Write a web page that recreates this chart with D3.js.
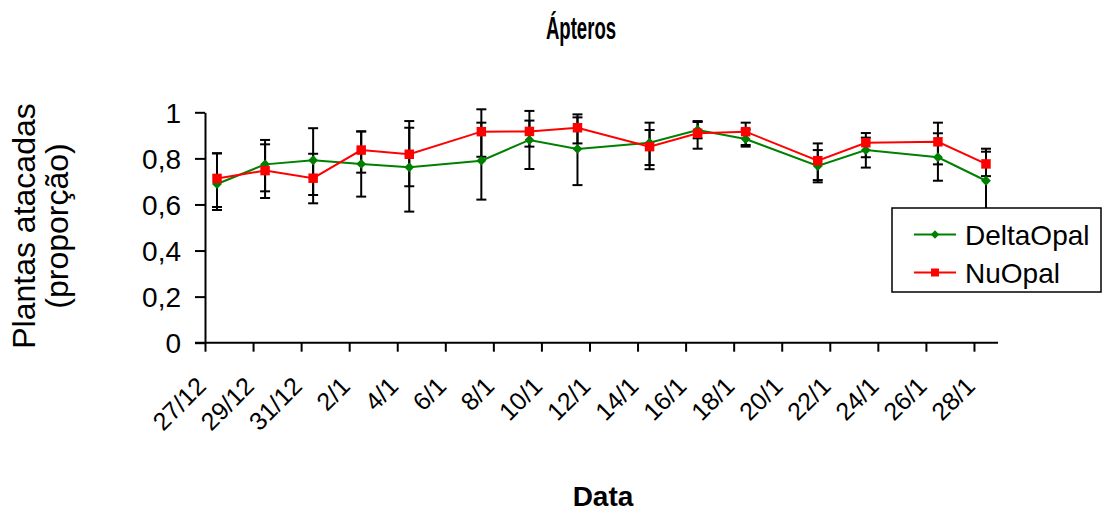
<!DOCTYPE html>
<html>
<head>
<meta charset="utf-8">
<script src="https://cdn.jsdelivr.net/npm/d3@7"></script>
<style>
  html, body { margin: 0; padding: 0; background: #fff; }
  svg { display: block; }
  svg text { font-family: "Liberation Sans", Arial, sans-serif; }
</style>
</head>
<body>
<svg id="chart" width="1107" height="513"></svg>
<script>
// ---- data ----
const sampleDates = ["27/12","29/12","31/12","2/1","4/1","7/1","9/1","11/1","14/1","16/1","18/1","21/1","23/1","26/1","28/1"];
const deltaOpal   = [0.689,0.774,0.792,0.776,0.761,0.790,0.880,0.841,0.868,0.923,0.884,0.767,0.836,0.805,0.703];
const deltaLow    = [0.576,0.657,0.641,0.634,0.569,0.621,0.754,0.684,0.753,0.887,0.851,0.696,0.760,0.703,0.564];
const deltaHigh   = [0.822,0.880,0.931,0.917,0.962,0.955,1.006,0.991,0.955,0.958,0.926,0.836,0.890,0.909,0.842];
const nuOpal      = [0.713,0.747,0.714,0.836,0.818,0.916,0.917,0.933,0.851,0.909,0.916,0.790,0.868,0.872,0.776];
const nuLow       = [0.589,0.628,0.605,0.738,0.679,0.807,0.851,0.865,0.771,0.842,0.858,0.706,0.805,0.774,0.723];
const nuHigh      = [0.822,0.861,0.820,0.917,0.933,1.013,0.964,0.978,0.923,0.962,0.955,0.865,0.910,0.955,0.829];
const xTickLabels = ["27/12","29/12","31/12","2/1","4/1","6/1","8/1","10/1","12/1","14/1","16/1","18/1","20/1","22/1","24/1","26/1","28/1"];
const yTicks      = [0, 0.2, 0.4, 0.6, 0.8, 1];
const seriesNames = ["DeltaOpal", "NuOpal"];
const seriesColors = ["#008000", "#ff0000"];
const titleText = "Ápteros";
const xTitle = "Data";
const yTitleLines = ["Plantas atacadas", "(proporção)"];

// ---- helpers ----
const FONT = "'Liberation Sans', Arial, sans-serif";
function parseDM(s) {
  const [d, m] = s.split("/").map(Number);
  return new Date(Date.UTC(m === 12 ? 2000 : 2001, m - 1, d));
}
const HALF_DAY = 12 * 3600 * 1000;

const svg = d3.select("#chart");
const W = 1107, H = 513;
svg.append("rect").attr("width", W).attr("height", H).attr("fill", "#fff");

const x0 = 205, x1 = 998, y0 = 342.7, y1 = 112.3;
const x = d3.scaleUtc()
  .domain([parseDM("27/12"), new Date(parseDM("28/1").getTime() + 2 * HALF_DAY)])
  .range([x0, x1]);
const y = d3.scaleLinear().domain([0, 1]).range([y0, y1]);

// title (condensed, as in the reference)
svg.append("text").attr("transform", "translate(581,39) scale(0.6,1)")
  .attr("text-anchor", "middle")
  .attr("font-family", FONT)
  .attr("font-weight", "bold").attr("font-size", 31)
  .text(titleText);

// x axis
const xAxis = d3.axisBottom(x)
  .tickValues(xTickLabels.map(parseDM))
  .tickSize(9).tickSizeOuter(0)
  .tickFormat((d, i) => xTickLabels[i]);
const gx = svg.append("g").attr("transform", `translate(0,${y0})`).call(xAxis)
  .attr("font-family", FONT);
gx.select(".domain").remove();
gx.selectAll(".tick line").attr("stroke", "#000").attr("stroke-width", 2);
gx.selectAll(".tick text")
  .attr("font-size", 25).attr("fill", "#000")
  .attr("text-anchor", "end")
  .attr("y", 0).attr("dy", 0)
  .attr("transform", "translate(2,45) rotate(-45)");
svg.append("line").attr("x1", 195).attr("x2", x1).attr("y1", y0).attr("y2", y0)
  .attr("stroke", "#000").attr("stroke-width", 2);

// y axis
const yAxis = d3.axisLeft(y).tickValues(yTicks).tickSize(10).tickSizeOuter(0)
  .tickPadding(14)
  .tickFormat(d => String(+d.toFixed(1)).replace(".", ","));
const gy = svg.append("g").attr("transform", `translate(${x0},0)`).call(yAxis)
  .attr("font-family", FONT);
gy.select(".domain").attr("stroke", "#000").attr("stroke-width", 2);
gy.selectAll(".tick line").attr("stroke", "#000").attr("stroke-width", 2);
gy.selectAll(".tick text").attr("font-size", 28).attr("fill", "#000").attr("dy", "0.36em");

// y title
const yt = svg.append("text").attr("transform", "translate(35,226) rotate(-90)")
  .attr("font-family", FONT)
  .attr("text-anchor", "middle").attr("font-size", 32);
yt.append("tspan").attr("x", 0).attr("y", 0).text(yTitleLines[0]);
yt.append("tspan").attr("x", 0).attr("y", 33).text(yTitleLines[1]);

// x title
svg.append("text").attr("x", 603).attr("y", 506).attr("text-anchor", "middle")
  .attr("font-family", FONT)
  .attr("font-weight", "bold").attr("font-size", 28).text(xTitle);

// data
const dates = sampleDates.map(s => new Date(parseDM(s).getTime() + HALF_DAY));
const series = [
  { name: seriesNames[0], color: seriesColors[0], vals: deltaOpal, lo: deltaLow, hi: deltaHigh, shape: "diamond" },
  { name: seriesNames[1], color: seriesColors[1], vals: nuOpal, lo: nuLow, hi: nuHigh, shape: "square" }
];

// error bars
const capW = 5;
series.forEach(s => {
  const g = svg.append("g").attr("stroke", "#000").attr("stroke-width", 2);
  dates.forEach((d, i) => {
    const cx = x(d);
    g.append("line").attr("x1", cx).attr("x2", cx).attr("y1", y(s.lo[i])).attr("y2", y(s.hi[i]));
    g.append("line").attr("x1", cx - capW).attr("x2", cx + capW).attr("y1", y(s.lo[i])).attr("y2", y(s.lo[i]));
    g.append("line").attr("x1", cx - capW).attr("x2", cx + capW).attr("y1", y(s.hi[i])).attr("y2", y(s.hi[i]));
  });
});

const symDiamond = d3.symbol().type(d3.symbolDiamond2).size(62);
const symSquare = d3.symbol().type(d3.symbolSquare).size(90);

series.forEach(s => {
  const line = d3.line().x((d, i) => x(dates[i])).y(d => y(d));
  svg.append("path").datum(s.vals).attr("d", line).attr("fill", "none")
    .attr("stroke", s.color).attr("stroke-width", 2);
  svg.append("g").selectAll("path").data(s.vals).join("path")
    .attr("transform", (d, i) => `translate(${x(dates[i])},${y(d)})`)
    .attr("d", s.shape === "diamond" ? symDiamond() : symSquare())
    .attr("fill", s.color);
});

// legend
const symDiamondL = d3.symbol().type(d3.symbolDiamond2).size(45);
const symSquareL = d3.symbol().type(d3.symbolSquare).size(64);
const lg = svg.append("g");
lg.append("rect").attr("x", 892).attr("y", 208).attr("width", 209).attr("height", 84)
  .attr("fill", "#fff").attr("stroke", "#000").attr("stroke-width", 1.5);
series.forEach((s, i) => {
  const ly = 234.5 + i * 38;
  lg.append("line").attr("x1", 914).attr("x2", 956).attr("y1", ly).attr("y2", ly)
    .attr("stroke", s.color).attr("stroke-width", 2);
  lg.append("path").attr("transform", `translate(935,${ly})`)
    .attr("d", s.shape === "diamond" ? symDiamondL() : symSquareL()).attr("fill", s.color);
  lg.append("text").attr("x", 965).attr("y", ly).attr("dy", "0.36em")
    .attr("font-family", FONT)
    .attr("font-size", 28).text(s.name);
});
</script>
</body>
</html>
